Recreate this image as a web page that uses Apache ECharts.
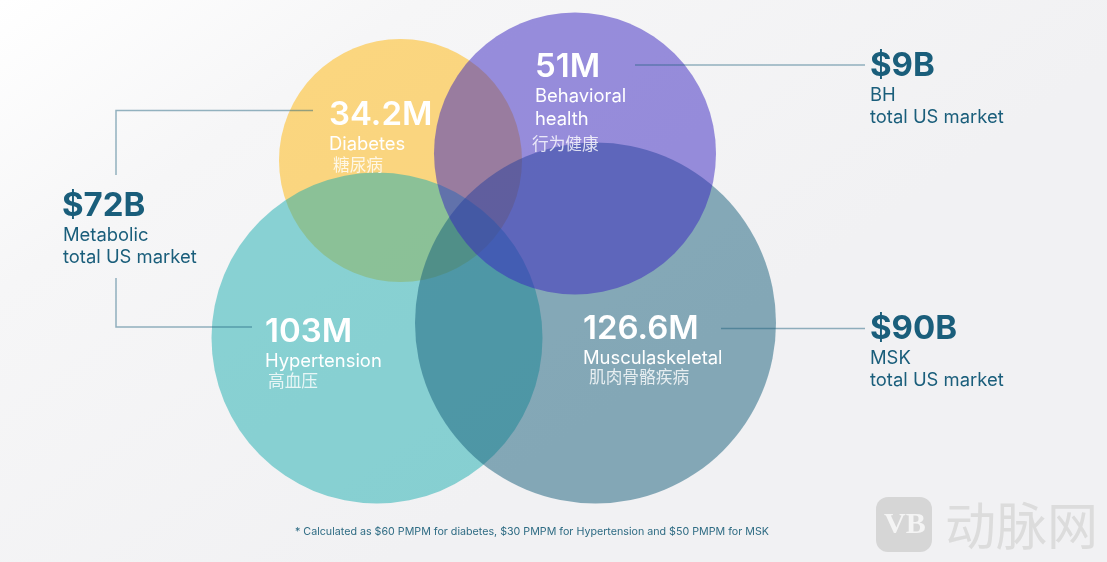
<!DOCTYPE html>
<html>
<head>
<meta charset="utf-8">
<style>html,body{margin:0;padding:0;background:#fff}#chart{width:1107px;height:562px}</style>
<script src="https://cdn.jsdelivr.net/npm/echarts@6/dist/echarts.min.js"></script>
</head>
<body>
<div id="chart"></div>
<script>
// drawing order matters: yellow at the bottom, purple on top
var circleNames = ['Diabetes', 'Hypertension', 'Musculaskeletal', 'Behavioral health'];
var patientsM = [34.2, 103, 126.6, 51];
var circleX = [400.5, 377, 595.5, 575];
var circleY = [160.5, 338, 323, 153.5];
var circleDiameter = [243, 331, 361, 282];
var circleColors = ['#FFB608', '#1BADB0', '#165E7A', '#3824C0'];

var numberLabels = ['34.2M', '103M', '126.6M', '51M'];
var marketLabels = ['$72B', '$9B', '$90B'];
var footnote = '* Calculated as $60 PMPM for diabetes, $30 PMPM for Hypertension and $50 PMPM for MSK';

var FONT = 'Inter, sans-serif';
var CJK = '"Noto Sans CJK SC", sans-serif';
var INK = '#1A5E7B';

function txt(text, x, y, size, weight, fill, family) {
	return {
		type: 'text', z: 20, x: x, y: y,
		style: {
			text: text, fill: fill,
			font: weight + ' ' + size + 'px ' + family,
			verticalAlign: 'middle', textAlign: 'left'
		}
	};
}
function seg(pts) {
	return {
		type: 'polyline', z: 15,
		shape: { points: pts },
		style: { fill: null, stroke: 'rgba(26,94,123,0.46)', lineWidth: 1.5 }
	};
}

var graphics = [
	seg([[116, 175], [116, 110.5], [313, 110.5]]),
	seg([[116, 278], [116, 327], [252, 327]]),
	seg([[635, 65], [865, 65]]),
	seg([[721, 328.5], [865, 328.5]]),

	// counts inside the circles
	txt(numberLabels[0], 329, 115.5, 33, 600, '#fff', FONT),
	txt('Diabetes', 329, 144.5, 18.4, 400, '#fff', FONT),
	txt('糖尿病', 333, 165, 16.7, 400, 'rgba(255,255,255,0.8)', CJK),
	txt(numberLabels[3], 535, 67.5, 33, 600, '#fff', FONT),
	txt('Behavioral', 535, 96.5, 18.4, 400, '#fff', FONT),
	txt('health', 535, 119, 18.4, 400, '#fff', FONT),
	txt('行为健康', 532, 143.5, 16.7, 400, 'rgba(255,255,255,0.8)', CJK),
	txt(numberLabels[1], 265, 332.5, 33, 600, '#fff', FONT),
	txt('Hypertension', 265, 361.5, 18.4, 400, '#fff', FONT),
	txt('高血压', 268, 380.5, 16.7, 400, 'rgba(255,255,255,0.8)', CJK),
	txt(numberLabels[2], 583, 329.5, 33, 600, '#fff', FONT),
	txt('Musculaskeletal', 583, 358.5, 18.4, 400, '#fff', FONT),
	txt('肌肉骨骼疾病', 589, 377, 16.7, 400, 'rgba(255,255,255,0.8)', CJK),

	// market sizes
	txt(marketLabels[0], 62, 206.5, 33, 700, INK, FONT),
	txt('Metabolic', 63, 235.5, 18.4, 400, INK, FONT),
	txt('total US market', 63, 257.5, 18.4, 400, INK, FONT),
	txt(marketLabels[1], 870, 66.5, 33, 700, INK, FONT),
	txt('BH', 870, 95.5, 18.4, 400, INK, FONT),
	txt('total US market', 870, 117.5, 18.4, 400, INK, FONT),
	txt(marketLabels[2], 870, 329.5, 33, 700, INK, FONT),
	txt('MSK', 870, 358.5, 18.4, 400, INK, FONT),
	txt('total US market', 870, 380.5, 18.4, 400, INK, FONT),

	txt(footnote, 295, 532, 10.7, 400, '#2F6C84', FONT),

	// watermark
	{ type: 'rect', z: 12, shape: { x: 876, y: 497, width: 56, height: 55, r: 12 }, style: { fill: '#D6D6D6' } },
	txt('VB', 884, 525, 30, 800, '#F4F4F4', '"Liberation Serif", serif'),
	txt('动脉网', 945, 526, 51, 400, '#DCDCDC', CJK)
];

var seriesData = patientsM.map(function (v, i) {
	return { name: circleNames[i], value: [circleX[i], circleY[i], v], symbolSize: circleDiameter[i],
		itemStyle: { color: circleColors[i], opacity: 0.5 } };
});

var myChart = echarts.init(document.getElementById('chart'));
myChart.setOption({
	animation: false,
	backgroundColor: new echarts.graphic.LinearGradient(0, 0, 0.35, 1, [
		{ offset: 0, color: '#FFFFFF' },
		{ offset: 0.35, color: '#F6F6F7' },
		{ offset: 1, color: '#F1F1F3' }
	]),
	grid: { left: 0, right: 0, top: 0, bottom: 0 },
	xAxis: { type: 'value', min: 0, max: 1107, show: false },
	yAxis: { type: 'value', min: 0, max: 562, inverse: true, show: false },
	series: [{
		type: 'scatter',
		symbol: 'circle',
		silent: true,
		data: seriesData
	}],
	graphic: { elements: graphics }
});
</script>
</body>
</html>
